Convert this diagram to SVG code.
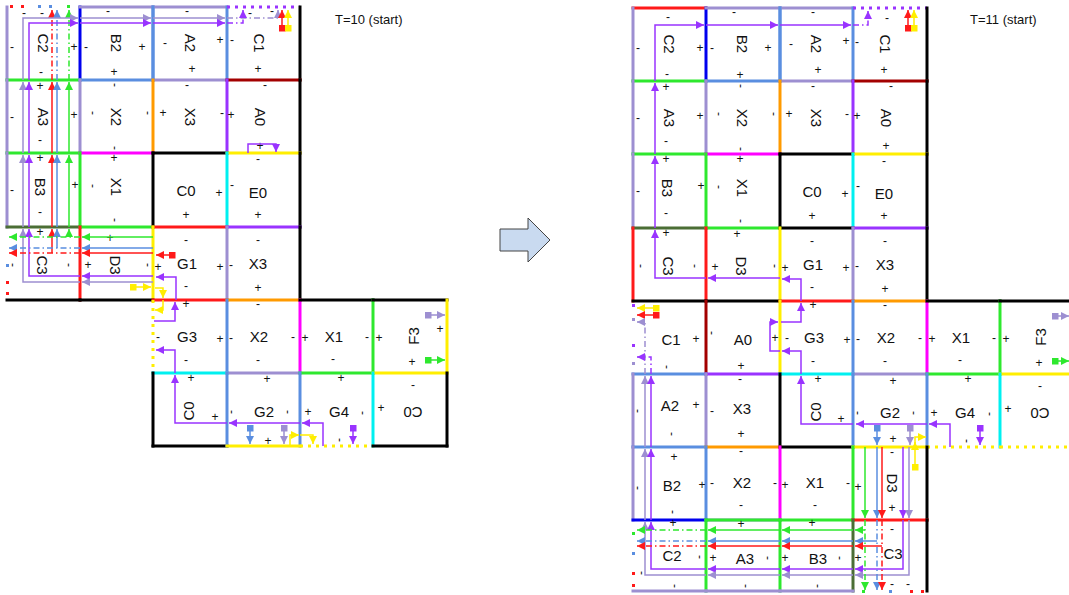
<svg xmlns="http://www.w3.org/2000/svg" width="1069" height="595" viewBox="0 0 1069 595">
<style>
.e{stroke-width:3;fill:none;stroke-linecap:square}
.lv{stroke:#9d8fd1}.cf{stroke:#5a8ee0}.bl{stroke:#0000ee}.lm{stroke:#2ee82e}.dg{stroke:#4b6e35}.rd{stroke:#ff1a1a}.dr{stroke:#a30000}.or{stroke:#ff9a00}.mg{stroke:#ff00ff}.pu{stroke:#9933ff}.ye{stroke:#ffee00}.cy{stroke:#00f0f0}.bk{stroke:#000}
.dot{stroke-dasharray:3 5;stroke-linecap:butt}
.L{font-family:"Liberation Sans",Arial,sans-serif;font-size:15px;fill:#111;text-anchor:middle;dominant-baseline:central}
.s{font-family:"Liberation Sans",Arial,sans-serif;font-size:12px;fill:#111;text-anchor:middle;dominant-baseline:central}
.T{font-family:"Liberation Sans",Arial,sans-serif;font-size:13px;fill:#111}
.c{fill:none;stroke-width:1.5}
.dd{stroke-dasharray:6 3 1.5 3}
.aPu{marker-end:url(#aPu)}.aLv{marker-end:url(#aLv)}.aRd{marker-end:url(#aRd)}.aCf{marker-end:url(#aCf)}.aLm{marker-end:url(#aLm)}.aYe{marker-end:url(#aYe)}
</style>
<defs>
<marker id="aPu" viewBox="0 0 10 10" refX="10" refY="5" markerWidth="9" markerHeight="8" markerUnits="userSpaceOnUse" orient="auto"><path d="M0,0L10,5L0,10z" fill="#9933ff"/></marker>
<marker id="aLv" viewBox="0 0 10 10" refX="10" refY="5" markerWidth="9" markerHeight="8" markerUnits="userSpaceOnUse" orient="auto"><path d="M0,0L10,5L0,10z" fill="#9d8fd1"/></marker>
<marker id="aRd" viewBox="0 0 10 10" refX="10" refY="5" markerWidth="9" markerHeight="8" markerUnits="userSpaceOnUse" orient="auto"><path d="M0,0L10,5L0,10z" fill="#ff1a1a"/></marker>
<marker id="aCf" viewBox="0 0 10 10" refX="10" refY="5" markerWidth="9" markerHeight="8" markerUnits="userSpaceOnUse" orient="auto"><path d="M0,0L10,5L0,10z" fill="#5a8ee0"/></marker>
<marker id="aLm" viewBox="0 0 10 10" refX="10" refY="5" markerWidth="9" markerHeight="8" markerUnits="userSpaceOnUse" orient="auto"><path d="M0,0L10,5L0,10z" fill="#2ee82e"/></marker>
<marker id="aYe" viewBox="0 0 10 10" refX="10" refY="5" markerWidth="9" markerHeight="8" markerUnits="userSpaceOnUse" orient="auto"><path d="M0,0L10,5L0,10z" fill="#ffee00"/></marker>
<marker id="qRd" viewBox="0 0 10 10" refX="5" refY="5" markerWidth="7" markerHeight="7" markerUnits="userSpaceOnUse"><rect width="10" height="10" fill="#ff1a1a"/></marker>
<marker id="qYe" viewBox="0 0 10 10" refX="5" refY="5" markerWidth="7" markerHeight="7" markerUnits="userSpaceOnUse"><rect width="10" height="10" fill="#ffee00"/></marker>
<marker id="qCf" viewBox="0 0 10 10" refX="5" refY="5" markerWidth="7" markerHeight="7" markerUnits="userSpaceOnUse"><rect width="10" height="10" fill="#5a8ee0"/></marker>
<marker id="qLv" viewBox="0 0 10 10" refX="5" refY="5" markerWidth="7" markerHeight="7" markerUnits="userSpaceOnUse"><rect width="10" height="10" fill="#9d8fd1"/></marker>
<marker id="qPu" viewBox="0 0 10 10" refX="5" refY="5" markerWidth="7" markerHeight="7" markerUnits="userSpaceOnUse"><rect width="10" height="10" fill="#9933ff"/></marker>
<marker id="qLm" viewBox="0 0 10 10" refX="5" refY="5" markerWidth="7" markerHeight="7" markerUnits="userSpaceOnUse"><rect width="10" height="10" fill="#2ee82e"/></marker>
</defs>
<rect width="1069" height="595" fill="#fff"/>

<text class="T" x="335" y="24">T=10 (start)</text>
<text class="T" x="970" y="24">T=11 (start)</text>
<g id="transition-arrow"><path d="M500,229H528V218L550,240L528,262V251H500Z" fill="#c9daf0" stroke="#444" stroke-width="1"/></g>

<!-- ================= LEFT (T=10) ================= -->
<g id="L-C2"><line class="e lv" x1="7" y1="7" x2="7" y2="80"/><line class="e bl" x1="80" y1="7" x2="80" y2="80"/><line class="e lm" x1="7" y1="80" x2="80" y2="80"/>
<rect x="10" y="5" width="3" height="3" fill="#ff1a1a"/><rect x="21" y="5" width="3" height="3" fill="#ff1a1a"/><rect x="38" y="5" width="3" height="3" fill="#5a8ee0"/><rect x="49" y="5" width="3" height="3" fill="#5a8ee0"/><rect x="67" y="5" width="3" height="3" fill="#2ee82e"/>
<text class="L" transform="rotate(90 43 43)" x="43" y="43">C2</text><text class="s" x="24" y="13">-</text><text class="s" x="42" y="13">-</text><text class="s" x="12" y="47">-</text><text class="s" x="74" y="47">+</text><text class="s" x="41" y="72">-</text></g>
<g id="L-B2"><line class="e lv" x1="80" y1="7" x2="153" y2="7"/><line class="e cf" x1="153" y1="7" x2="153" y2="80"/><line class="e cf" x1="80" y1="80" x2="153" y2="80"/>
<text class="L" transform="rotate(90 116 43)" x="116" y="43">B2</text><text class="s" x="108" y="11">-</text><text class="s" x="86" y="47">-</text><text class="s" x="142" y="47">+</text><text class="s" x="114" y="72">+</text></g>
<g id="L-A2"><line class="e lv" x1="153" y1="7" x2="227" y2="7"/><line class="e cf" x1="227" y1="7" x2="227" y2="80"/><line class="e lv" x1="153" y1="80" x2="227" y2="80"/><line class="e cf" x1="153" y1="7" x2="153" y2="80"/>
<text class="L" transform="rotate(90 190 43)" x="190" y="43">A2</text><text class="s" x="187" y="11">-</text><text class="s" x="165" y="43">-</text><text class="s" x="220" y="40">+</text><text class="s" x="192" y="69">+</text></g>
<g id="L-C1"><line class="e pu dot" x1="227" y1="7" x2="300" y2="7"/><line class="e bk" x1="300" y1="7" x2="300" y2="80"/><line class="e dr" x1="227" y1="80" x2="300" y2="80"/>
<text class="L" transform="rotate(90 259 43)" x="259" y="43">C1</text><text class="s" x="250" y="13">-</text><text class="s" x="272" y="11">-</text><text class="s" x="232" y="40">-</text><text class="s" x="258" y="69">+</text></g>

<g id="L-A3"><line class="e lv" x1="7" y1="80" x2="7" y2="153"/><line class="e lv" x1="80" y1="80" x2="80" y2="153"/><line class="e lm" x1="7" y1="153" x2="80" y2="153"/>
<text class="L" transform="rotate(90 43 117)" x="43" y="117">A3</text><text class="s" x="40" y="86">+</text><text class="s" x="12" y="117">-</text><text class="s" x="74" y="115">+</text><text class="s" x="40" y="140">-</text></g>
<g id="L-X2"><line class="e or" x1="153" y1="80" x2="153" y2="153"/><line class="e mg" x1="80" y1="153" x2="153" y2="153"/>
<text class="L" transform="rotate(90 116 117)" x="116" y="117">X2</text><text class="s" transform="rotate(90 115 85)" x="115" y="85">-</text><text class="s" transform="rotate(90 93 113)" x="93" y="113">-</text><text class="s" transform="rotate(90 148 113)" x="148" y="113">-</text><text class="s" transform="rotate(90 115 148)" x="115" y="148">-</text></g>
<g id="L-X3"><line class="e pu" x1="227" y1="80" x2="227" y2="153"/><line class="e bk" x1="153" y1="153" x2="227" y2="153"/>
<text class="L" transform="rotate(90 190 117)" x="190" y="117">X3</text><text class="s" x="187" y="85">-</text><text class="s" x="163" y="113">+</text><text class="s" x="222" y="113">-</text></g>
<g id="L-A0"><line class="e bk" x1="300" y1="80" x2="300" y2="153"/><line class="e ye" x1="227" y1="153" x2="300" y2="153"/>
<text class="L" transform="rotate(90 260 117)" x="260" y="117">A0</text><text class="s" x="265" y="85">-</text><text class="s" x="231" y="115">+</text><text class="s" x="260" y="146">+</text></g>

<g id="L-B3"><line class="e lv" x1="7" y1="153" x2="7" y2="227"/><line class="e lm" x1="80" y1="153" x2="80" y2="227"/><line class="e dg" x1="7" y1="227" x2="80" y2="227"/>
<text class="L" transform="rotate(90 40 187)" x="40" y="187">B3</text><text class="s" x="40" y="158">+</text><text class="s" x="12" y="190">-</text><text class="s" x="75" y="185">+</text><text class="s" x="40" y="212">-</text></g>
<g id="L-X1"><line class="e bk" x1="153" y1="153" x2="153" y2="227"/><line class="e lm" x1="80" y1="227" x2="153" y2="227"/>
<text class="L" transform="rotate(90 116 187)" x="116" y="187">X1</text><text class="s" x="114" y="158">+</text><text class="s" transform="rotate(90 93 186)" x="93" y="186">-</text><text class="s" transform="rotate(90 115 220)" x="115" y="220">-</text></g>
<g id="L-C0a"><line class="e cy" x1="227" y1="153" x2="227" y2="227"/><line class="e rd" x1="153" y1="227" x2="227" y2="227"/>
<text class="L" x="186" y="190">C0</text><text class="s" x="219" y="193">+</text><text class="s" x="186" y="215">+</text></g>
<g id="L-E0"><line class="e bk" x1="300" y1="153" x2="300" y2="227"/><line class="e pu" x1="227" y1="227" x2="300" y2="227"/>
<text class="L" x="258" y="192">E0</text><text class="s" x="258" y="159">-</text><text class="s" x="232" y="185">-</text><text class="s" x="258" y="215">+</text></g>

<g id="L-C3"><line class="e rd" x1="80" y1="227" x2="80" y2="300"/><line class="e bk" x1="7" y1="300" x2="80" y2="300"/>
<rect x="6" y="264" width="3" height="3" fill="#5a8ee0"/><rect x="6" y="281" width="3" height="3" fill="#ff1a1a"/><rect x="6" y="292" width="3" height="3" fill="#ff1a1a"/>
<text class="L" transform="rotate(90 42 265)" x="42" y="265">C3</text><text class="s" x="40" y="232">+</text><text class="s" transform="rotate(90 13 265)" x="13" y="265">-</text><text class="s" transform="rotate(90 69 265)" x="69" y="265">-</text></g>
<g id="L-D3"><line class="e ye" x1="153" y1="227" x2="153" y2="300"/><line class="e bk" x1="80" y1="300" x2="153" y2="300"/>
<text class="L" transform="rotate(90 115 265)" x="115" y="265">D3</text><text class="s" x="110" y="238">+</text><text class="s" x="88" y="265">+</text><text class="s" transform="rotate(90 148 265)" x="148" y="265">-</text></g>
<g id="L-G1"><line class="e lv" x1="227" y1="227" x2="227" y2="300"/><line class="e rd" x1="153" y1="300" x2="227" y2="300"/>
<text class="L" x="187" y="263">G1</text><text class="s" x="186" y="240">-</text><text class="s" x="158" y="267">+</text><text class="s" x="220" y="267">+</text><text class="s" x="186" y="286">-</text></g>
<g id="L-X3b"><line class="e bk" x1="300" y1="227" x2="300" y2="300"/><line class="e or" x1="227" y1="300" x2="300" y2="300"/>
<text class="L" x="258" y="263">X3</text><text class="s" x="258" y="240">-</text><text class="s" x="231" y="265">-</text><text class="s" x="258" y="288">+</text></g>

<g id="L-G3"><line class="e ye dot" x1="153" y1="300" x2="153" y2="373"/><line class="e cf" x1="227" y1="300" x2="227" y2="373"/><line class="e cy" x1="153" y1="373" x2="227" y2="373"/>
<text class="L" x="187" y="336">G3</text><text class="s" x="186" y="304">+</text><text class="s" x="158" y="337">-</text><text class="s" x="220" y="339">+</text><text class="s" x="186" y="360">-</text></g>
<g id="L-X2b"><line class="e mg" x1="300" y1="300" x2="300" y2="373"/><line class="e lv" x1="227" y1="373" x2="300" y2="373"/>
<text class="L" x="259" y="336">X2</text><text class="s" x="258" y="304">-</text><text class="s" x="231" y="338">-</text><text class="s" x="293" y="337">-</text><text class="s" x="258" y="360">-</text></g>
<g id="L-X1b"><line class="e bk" x1="300" y1="300" x2="373" y2="300"/><line class="e lm" x1="373" y1="300" x2="373" y2="373"/><line class="e lm" x1="300" y1="373" x2="373" y2="373"/>
<text class="L" x="334" y="336">X1</text><text class="s" x="305" y="338">+</text><text class="s" x="367" y="337">-</text><text class="s" x="333" y="359">-</text></g>
<g id="L-F3"><line class="e bk" x1="373" y1="300" x2="447" y2="300"/><line class="e ye" x1="447" y1="300" x2="447" y2="373"/><line class="e ye" x1="373" y1="373" x2="447" y2="373"/>
<text class="L" transform="rotate(-90 413 336)" x="413" y="336">F3</text><text class="s" x="440" y="329">+</text><text class="s" x="379" y="338">+</text><text class="s" x="412" y="362">+</text></g>

<g id="L-C0b"><line class="e bk" x1="153" y1="373" x2="153" y2="446"/><line class="e bk" x1="153" y1="446" x2="227" y2="446"/><line class="e cf" x1="227" y1="373" x2="227" y2="446"/>
<text class="L" transform="rotate(-90 188 411)" x="188" y="411">C0</text><text class="s" x="191" y="378">+</text><text class="s" x="215" y="417">+</text></g>
<g id="L-G2"><line class="e cf" x1="300" y1="373" x2="300" y2="446"/><line class="e ye" x1="227" y1="446" x2="300" y2="446"/>
<text class="L" x="264" y="411">G2</text><text class="s" x="267" y="379">+</text><text class="s" transform="rotate(90 232 412)" x="232" y="412">-</text><text class="s" transform="rotate(90 288 412)" x="288" y="412">-</text><text class="s" x="268" y="441">+</text></g>
<g id="L-G4"><line class="e cy" x1="373" y1="373" x2="373" y2="446"/><line class="e ye dot" x1="300" y1="446" x2="373" y2="446"/>
<text class="L" x="339" y="411">G4</text><text class="s" x="341" y="378">+</text><text class="s" x="308" y="412">+</text><text class="s" transform="rotate(90 363 413)" x="363" y="413">-</text><text class="s" transform="rotate(90 340 440)" x="340" y="440">-</text></g>
<g id="L-C0c"><line class="e bk" x1="447" y1="373" x2="447" y2="446"/><line class="e bk" x1="373" y1="446" x2="447" y2="446"/>
<text class="L" transform="rotate(180 413 412)" x="413" y="412">C0</text><text class="s" x="413" y="385">-</text><text class="s" x="381" y="408">+</text></g>

<g id="L-connectors">
<path class="c aRd" stroke="#ff1a1a" d="M52,253V229"/><path class="c aRd" stroke="#ff1a1a" d="M52,227V155"/><path class="c aRd" stroke="#ff1a1a" d="M52,153V82"/><path class="c dd aRd" stroke="#ff1a1a" d="M52,80V10"/>
<path class="c aCf" stroke="#5a8ee0" d="M57,248V229"/><path class="c aCf" stroke="#5a8ee0" d="M57,227V155"/><path class="c aCf" stroke="#5a8ee0" d="M57,153V82"/><path class="c dd aCf" stroke="#5a8ee0" d="M57,80V10"/>
<path class="c aLm" stroke="#2ee82e" d="M69,237V229"/><path class="c aLm" stroke="#2ee82e" d="M69,227V155"/><path class="c aLm" stroke="#2ee82e" d="M69,153V82"/><path class="c dd aLm" stroke="#2ee82e" d="M69,80V10"/>
<path class="c aLv" stroke="#9d8fd1" d="M80,282H23V229"/><path class="c aLv" stroke="#9d8fd1" d="M23,227V155"/><path class="c aLv" stroke="#9d8fd1" d="M23,153V82"/><path class="c aLv" stroke="#9d8fd1" d="M23,80V18H78"/><path class="c aLv" stroke="#9d8fd1" d="M80,18H151"/><path class="c aLv" stroke="#9d8fd1" d="M153,18H225"/><path class="c dd aLv" stroke="#9d8fd1" d="M227,18H278V10"/>
<path class="c aPu" stroke="#9933ff" d="M80,276H29V229"/><path class="c aPu" stroke="#9933ff" d="M29,227V155"/><path class="c aPu" stroke="#9933ff" d="M29,153V82"/><path class="c aPu" stroke="#9933ff" d="M29,80V23H78"/><path class="c aPu" stroke="#9933ff" d="M80,23H151"/><path class="c aPu" stroke="#9933ff" d="M153,23H225"/><path class="c dd aPu" stroke="#9933ff" d="M227,23H243V10"/>
<path class="c aRd" stroke="#ff1a1a" d="M282,28V10" marker-start="url(#qRd)"/><path class="c aYe" stroke="#ffee00" d="M288,28V10" marker-start="url(#qYe)"/>
<path class="c aLm" stroke="#2ee82e" d="M153,237H82"/><path class="c dd aLm" stroke="#2ee82e" d="M80,237H9"/>
<path class="c aCf" stroke="#5a8ee0" d="M153,248H82"/><path class="c dd aCf" stroke="#5a8ee0" d="M80,248H9"/>
<path class="c aRd" stroke="#ff1a1a" d="M153,253H82"/><path class="c dd aRd" stroke="#ff1a1a" d="M80,253H9"/>
<path class="c aPu" stroke="#9933ff" d="M153,276H82"/><path class="c aLv" stroke="#9d8fd1" d="M153,282H82"/>
<path class="c aYe" stroke="#ffee00" d="M133,287H151" marker-start="url(#qYe)"/>
<path class="c aRd" stroke="#ff1a1a" d="M172,255H156" marker-start="url(#qRd)"/>
<path class="c aPu" stroke="#9933ff" d="M176,300V277H156"/>
<path class="c aYe" stroke="#ffee00" d="M155,288H163V298"/>
<path class="c aPu" stroke="#9933ff" d="M154,321H175V302"/>
<path class="c aYe" stroke="#ffee00" d="M163,300V310H155"/>
<path class="c aPu" stroke="#9933ff" d="M175,373V350H156"/>
<path class="c aPu" stroke="#9933ff" d="M323,446V423H302"/><path class="c aPu" stroke="#9933ff" d="M300,423H229"/><path class="c aPu" stroke="#9933ff" d="M227,423H175V375"/>
<path class="c aCf" stroke="#5a8ee0" d="M250,428V444" marker-start="url(#qCf)"/>
<path class="c aLv" stroke="#9d8fd1" d="M284,428V444" marker-start="url(#qLv)"/>
<path class="c aYe" stroke="#ffee00" d="M290,446V435H299"/><path class="c aYe" stroke="#ffee00" d="M300,435H313V444"/>
<path class="c aPu" stroke="#9933ff" d="M353,428V444" marker-start="url(#qPu)"/>
<path class="c aLv" stroke="#9d8fd1" d="M428,315H445" marker-start="url(#qLv)"/>
<path class="c aLm" stroke="#2ee82e" d="M428,360H445" marker-start="url(#qLm)"/>
<path class="c aPu" stroke="#9933ff" d="M248,153V144H276V152"/>
</g>

<!-- ================= RIGHT (T=11) ================= -->
<g id="R-C2"><line class="e rd" x1="633" y1="8" x2="706" y2="8"/><line class="e lv" x1="633" y1="8" x2="633" y2="81"/><line class="e bl" x1="706" y1="8" x2="706" y2="81"/><line class="e lm" x1="633" y1="81" x2="706" y2="81"/>
<text class="L" transform="rotate(90 669 44)" x="669" y="44">C2</text><text class="s" x="668" y="17">-</text><text class="s" x="638" y="48">-</text><text class="s" x="700" y="48">+</text><text class="s" x="667" y="74">-</text></g>
<g id="R-B2"><line class="e lv" x1="706" y1="8" x2="780" y2="8"/><line class="e cf" x1="780" y1="8" x2="780" y2="81"/><line class="e cf" x1="706" y1="81" x2="780" y2="81"/>
<text class="L" transform="rotate(90 742 44)" x="742" y="44">B2</text><text class="s" x="734" y="12">-</text><text class="s" x="712" y="48">-</text><text class="s" x="768" y="48">+</text><text class="s" x="740" y="75">+</text></g>
<g id="R-A2"><line class="e lv" x1="780" y1="8" x2="853" y2="8"/><line class="e cf" x1="853" y1="8" x2="853" y2="81"/><line class="e lv" x1="780" y1="81" x2="853" y2="81"/><line class="e cf" x1="780" y1="8" x2="780" y2="81"/>
<text class="L" transform="rotate(90 816 44)" x="816" y="44">A2</text><text class="s" x="813" y="12">-</text><text class="s" x="791" y="44">-</text><text class="s" x="846" y="41">+</text><text class="s" x="818" y="70">+</text></g>
<g id="R-C1"><line class="e pu dot" x1="853" y1="8" x2="927" y2="8"/><line class="e bk" x1="927" y1="8" x2="927" y2="81"/><line class="e dr" x1="853" y1="81" x2="927" y2="81"/>
<text class="L" transform="rotate(90 885 44)" x="885" y="44">C1</text><text class="s" x="887" y="18">-</text><text class="s" x="857" y="42">-</text><text class="s" x="884" y="70">+</text></g>

<g id="R-A3"><line class="e lv" x1="633" y1="81" x2="633" y2="154"/><line class="e lv" x1="706" y1="81" x2="706" y2="154"/><line class="e lm" x1="633" y1="154" x2="706" y2="154"/>
<text class="L" transform="rotate(90 669 118)" x="669" y="118">A3</text><text class="s" x="666" y="87">+</text><text class="s" x="638" y="118">-</text><text class="s" x="700" y="116">+</text><text class="s" x="666" y="141">-</text></g>
<g id="R-X2"><line class="e or" x1="780" y1="81" x2="780" y2="154"/><line class="e mg" x1="706" y1="154" x2="780" y2="154"/>
<text class="L" transform="rotate(90 742 118)" x="742" y="118">X2</text><text class="s" transform="rotate(90 741 86)" x="741" y="86">-</text><text class="s" transform="rotate(90 719 114)" x="719" y="114">-</text><text class="s" transform="rotate(90 774 114)" x="774" y="114">-</text><text class="s" transform="rotate(90 741 149)" x="741" y="149">-</text></g>
<g id="R-X3"><line class="e pu" x1="853" y1="81" x2="853" y2="154"/><line class="e bk" x1="780" y1="154" x2="853" y2="154"/>
<text class="L" transform="rotate(90 816 118)" x="816" y="118">X3</text><text class="s" x="813" y="86">-</text><text class="s" x="789" y="114">+</text><text class="s" x="847" y="114">-</text></g>
<g id="R-A0"><line class="e bk" x1="927" y1="81" x2="927" y2="154"/><line class="e ye" x1="853" y1="154" x2="927" y2="154"/>
<text class="L" transform="rotate(90 886 118)" x="886" y="118">A0</text><text class="s" x="891" y="86">-</text><text class="s" x="857" y="116">+</text><text class="s" x="886" y="146">+</text></g>

<g id="R-B3"><line class="e lv" x1="633" y1="154" x2="633" y2="228"/><line class="e lm" x1="706" y1="154" x2="706" y2="228"/><line class="e dg" x1="633" y1="228" x2="706" y2="228"/>
<text class="L" transform="rotate(90 667 188)" x="667" y="188">B3</text><text class="s" x="666" y="159">+</text><text class="s" x="638" y="191">-</text><text class="s" x="701" y="186">+</text><text class="s" x="666" y="213">-</text></g>
<g id="R-X1"><line class="e bk" x1="780" y1="154" x2="780" y2="228"/><line class="e lm" x1="706" y1="228" x2="780" y2="228"/>
<text class="L" transform="rotate(90 742 188)" x="742" y="188">X1</text><text class="s" x="740" y="159">+</text><text class="s" transform="rotate(90 719 187)" x="719" y="187">-</text><text class="s" transform="rotate(90 741 221)" x="741" y="221">-</text></g>
<g id="R-C0a"><line class="e cy" x1="853" y1="154" x2="853" y2="228"/><line class="e bk" x1="780" y1="228" x2="853" y2="228"/>
<text class="L" x="812" y="191">C0</text><text class="s" x="845" y="194">+</text><text class="s" x="812" y="216">+</text></g>
<g id="R-E0"><line class="e bk" x1="927" y1="154" x2="927" y2="228"/><line class="e pu" x1="853" y1="228" x2="927" y2="228"/>
<text class="L" x="884" y="193">E0</text><text class="s" x="884" y="161">-</text><text class="s" x="858" y="186">-</text><text class="s" x="884" y="216">+</text></g>

<g id="R-C3"><line class="e rd" x1="633" y1="228" x2="633" y2="301"/><line class="e rd" x1="706" y1="228" x2="706" y2="301"/><line class="e bk" x1="633" y1="301" x2="706" y2="301"/>
<text class="L" transform="rotate(90 668 266)" x="668" y="266">C3</text><text class="s" x="666" y="233">+</text><text class="s" transform="rotate(90 641 266)" x="641" y="266">-</text><text class="s" transform="rotate(90 695 266)" x="695" y="266">-</text></g>
<g id="R-D3"><line class="e ye" x1="780" y1="228" x2="780" y2="301"/><line class="e bk" x1="706" y1="301" x2="780" y2="301"/>
<text class="L" transform="rotate(90 741 266)" x="741" y="266">D3</text><text class="s" x="737" y="234">+</text><text class="s" x="715" y="267">+</text><text class="s" transform="rotate(90 775 266)" x="775" y="266">-</text></g>
<g id="R-G1"><line class="e lv" x1="853" y1="228" x2="853" y2="301"/><line class="e rd" x1="780" y1="301" x2="853" y2="301"/>
<text class="L" x="813" y="264">G1</text><text class="s" x="812" y="241">-</text><text class="s" x="785" y="268">+</text><text class="s" x="846" y="268">+</text><text class="s" x="812" y="287">-</text></g>
<g id="R-X3b"><line class="e bk" x1="927" y1="228" x2="927" y2="301"/><line class="e or" x1="853" y1="301" x2="927" y2="301"/>
<text class="L" x="885" y="264">X3</text><text class="s" x="885" y="241">-</text><text class="s" x="857" y="266">-</text><text class="s" x="885" y="289">+</text></g>

<g id="R-C1b"><line class="e dr" x1="706" y1="301" x2="706" y2="374"/><line class="e cf" x1="633" y1="374" x2="706" y2="374"/>
<rect x="632" y="304" width="3" height="3" fill="#9933ff"/><rect x="632" y="318" width="3" height="3" fill="#9d8fd1"/><rect x="632" y="344" width="3" height="3" fill="#9933ff"/><rect x="632" y="362" width="3" height="3" fill="#9d8fd1"/>
<text class="L" x="671" y="339">C1</text><text class="s" x="696" y="339">+</text><text class="s" transform="rotate(90 667 367)" x="667" y="367">-</text></g>
<g id="R-A0b"><line class="e ye" x1="780" y1="301" x2="780" y2="374"/><line class="e pu" x1="706" y1="374" x2="780" y2="374"/>
<text class="L" x="743" y="339">A0</text><text class="s" transform="rotate(90 712 333)" x="712" y="333">-</text><text class="s" x="775" y="338">+</text><text class="s" x="741" y="366">+</text></g>
<g id="R-G3"><line class="e cf" x1="853" y1="301" x2="853" y2="374"/><line class="e cy" x1="780" y1="374" x2="853" y2="374"/>
<text class="L" x="814" y="337">G3</text><text class="s" x="813" y="305">+</text><text class="s" x="787" y="338">-</text><text class="s" x="847" y="340">+</text><text class="s" x="813" y="361">-</text></g>
<g id="R-X2b"><line class="e mg" x1="927" y1="301" x2="927" y2="374"/><line class="e lv" x1="853" y1="374" x2="927" y2="374"/>
<text class="L" x="886" y="337">X2</text><text class="s" x="885" y="305">-</text><text class="s" x="858" y="339">-</text><text class="s" x="920" y="338">-</text><text class="s" x="885" y="361">-</text></g>
<g id="R-X1b"><line class="e bk" x1="927" y1="301" x2="1000" y2="301"/><line class="e lm" x1="1000" y1="301" x2="1000" y2="374"/><line class="e lm" x1="927" y1="374" x2="1000" y2="374"/>
<text class="L" x="961" y="337">X1</text><text class="s" x="932" y="339">+</text><text class="s" x="994" y="338">-</text><text class="s" x="960" y="360">-</text></g>
<g id="R-F3"><line class="e bk" x1="1000" y1="301" x2="1069" y2="301"/><line class="e ye" x1="1000" y1="374" x2="1069" y2="374"/>
<text class="L" transform="rotate(-90 1040 337)" x="1040" y="337">F3</text><text class="s" x="1006" y="339">+</text><text class="s" x="1039" y="363">+</text></g>

<g id="R-A2b"><line class="e lv" x1="633" y1="374" x2="633" y2="447"/><line class="e lv" x1="706" y1="374" x2="706" y2="447"/><line class="e cf" x1="633" y1="447" x2="706" y2="447"/>
<text class="L" x="670" y="405">A2</text><text class="s" x="696" y="405">+</text><text class="s" transform="rotate(90 638 411)" x="638" y="411">-</text><text class="s" transform="rotate(90 672 434)" x="672" y="434">-</text></g>
<g id="R-X3c"><line class="e bk" x1="780" y1="374" x2="780" y2="447"/><line class="e or" x1="706" y1="447" x2="780" y2="447"/>
<text class="L" x="742" y="408">X3</text><text class="s" x="740" y="379">-</text><text class="s" x="712" y="411">-</text><text class="s" x="741" y="434">+</text></g>
<g id="R-C0b"><line class="e bk" x1="780" y1="447" x2="853" y2="447"/><line class="e cf" x1="853" y1="374" x2="853" y2="447"/>
<text class="L" transform="rotate(-90 815 412)" x="815" y="412">C0</text><text class="s" x="818" y="379">+</text><text class="s" x="841" y="419">+</text></g>
<g id="R-G2"><line class="e cf" x1="927" y1="374" x2="927" y2="447"/><line class="e ye" x1="853" y1="447" x2="927" y2="447"/>
<text class="L" x="890" y="412">G2</text><text class="s" x="893" y="381">+</text><text class="s" transform="rotate(90 858 413)" x="858" y="413">-</text><text class="s" transform="rotate(90 914 413)" x="914" y="413">-</text><text class="s" x="893" y="439">+</text></g>
<g id="R-G4"><line class="e cy" x1="1000" y1="374" x2="1000" y2="447"/><line class="e ye dot" x1="927" y1="447" x2="1000" y2="447"/>
<text class="L" x="965" y="412">G4</text><text class="s" x="968" y="379">+</text><text class="s" x="934" y="413">+</text><text class="s" transform="rotate(90 990 414)" x="990" y="414">-</text><text class="s" transform="rotate(90 967 441)" x="967" y="441">-</text></g>
<g id="R-C0c"><line class="e ye dot" x1="1000" y1="447" x2="1069" y2="447"/>
<text class="L" transform="rotate(180 1040 413)" x="1040" y="413">C0</text><text class="s" x="1040" y="386">-</text><text class="s" x="1008" y="409">+</text></g>

<g id="R-B2b"><line class="e lv" x1="633" y1="447" x2="633" y2="520"/><line class="e cf" x1="706" y1="447" x2="706" y2="520"/><line class="e bl" x1="633" y1="520" x2="706" y2="520"/>
<text class="L" x="672" y="485">B2</text><text class="s" x="674" y="457">+</text><text class="s" x="702" y="485">+</text><text class="s" transform="rotate(90 638 488)" x="638" y="488">-</text><text class="s" transform="rotate(90 673 512)" x="673" y="512">-</text></g>
<g id="R-X2c"><line class="e mg" x1="780" y1="447" x2="780" y2="520"/><line class="e lv" x1="706" y1="520" x2="780" y2="520"/>
<text class="L" x="742" y="482">X2</text><text class="s" x="741" y="451">-</text><text class="s" x="712" y="483">-</text><text class="s" x="775" y="483">-</text><text class="s" x="741" y="505">-</text></g>
<g id="R-X1c"><line class="e lm" x1="853" y1="447" x2="853" y2="520"/><line class="e lm" x1="780" y1="520" x2="853" y2="520"/>
<text class="L" x="815" y="482">X1</text><text class="s" x="785" y="485">+</text><text class="s" x="848" y="483">-</text><text class="s" x="815" y="505">-</text></g>
<g id="R-D3b"><line class="e bk" x1="927" y1="447" x2="927" y2="520"/><line class="e rd" x1="853" y1="520" x2="927" y2="520"/>
<text class="L" transform="rotate(90 892 483)" x="892" y="483">D3</text><text class="s" x="892" y="452">-</text><text class="s" x="858" y="487">+</text><text class="s" x="892" y="508">+</text></g>

<g id="R-C2b"><line class="e lm" x1="706" y1="520" x2="706" y2="591"/><line class="e lv" x1="633" y1="591" x2="706" y2="591"/>
<rect x="632" y="532" width="3" height="3" fill="#2ee82e"/><rect x="632" y="552" width="3" height="3" fill="#5a8ee0"/><rect x="632" y="572" width="3" height="3" fill="#ff1a1a"/><rect x="632" y="584" width="3" height="3" fill="#ff1a1a"/>
<text class="L" x="672" y="555">C2</text><text class="s" x="673" y="523">+</text><text class="s" transform="rotate(90 700 557)" x="700" y="557">-</text><text class="s" transform="rotate(90 642 573)" x="642" y="573">-</text><text class="s" transform="rotate(90 675 586)" x="675" y="586">-</text></g>
<g id="R-A3b"><line class="e lm" x1="706" y1="520" x2="780" y2="520"/><line class="e lm" x1="780" y1="520" x2="780" y2="591"/><line class="e lv" x1="706" y1="591" x2="780" y2="591"/>
<text class="L" x="745" y="558">A3</text><text class="s" x="741" y="524">+</text><text class="s" x="713" y="558">+</text><text class="s" transform="rotate(90 768 558)" x="768" y="558">-</text><text class="s" transform="rotate(90 746 586)" x="746" y="586">-</text></g>
<g id="R-B3b"><line class="e dg" x1="853" y1="520" x2="853" y2="591"/><line class="e lv" x1="780" y1="591" x2="853" y2="591"/>
<text class="L" x="818" y="558">B3</text><text class="s" x="812" y="523">+</text><text class="s" x="785" y="558">+</text><text class="s" transform="rotate(90 840 558)" x="840" y="558">-</text><text class="s" transform="rotate(90 818 586)" x="818" y="586">-</text></g>
<g id="R-C3b"><line class="e bk" x1="927" y1="520" x2="927" y2="591"/>
<rect x="862" y="590" width="3" height="3" fill="#2ee82e"/><rect x="889" y="590" width="3" height="3" fill="#5a8ee0"/><rect x="910" y="590" width="3" height="3" fill="#ff1a1a"/><rect x="921" y="590" width="3" height="3" fill="#ff1a1a"/>
<text class="L" x="893" y="553">C3</text><text class="s" x="858" y="558">+</text><text class="s" x="892" y="529">-</text><text class="s" x="892" y="584">-</text><text class="s" x="908" y="584">-</text></g>

<g id="R-connectors">
<path class="c aPu" stroke="#9933ff" d="M780,278H708"/><path class="c aPu" stroke="#9933ff" d="M706,278H655V230"/><path class="c aPu" stroke="#9933ff" d="M655,228V156"/><path class="c aPu" stroke="#9933ff" d="M655,154V83"/><path class="c aPu" stroke="#9933ff" d="M655,81V25H704"/><path class="c aPu" stroke="#9933ff" d="M706,25H778"/><path class="c aPu" stroke="#9933ff" d="M780,25H851"/><path class="c dd aPu" stroke="#9933ff" d="M853,25H868V11"/>
<path class="c aRd" stroke="#ff1a1a" d="M908,28V10" marker-start="url(#qRd)"/><path class="c aYe" stroke="#ffee00" d="M914,28V10" marker-start="url(#qYe)"/>
<path class="c aYe" stroke="#ffee00" d="M656,308H637" marker-start="url(#qYe)"/>
<path class="c aRd" stroke="#ff1a1a" d="M656,315H637" marker-start="url(#qRd)"/>
<path class="c dd aLv" stroke="#9d8fd1" d="M645,374V322H637"/>
<path class="c dd aPu" stroke="#9933ff" d="M651,374V357H637"/>
<path class="c aPu" stroke="#9933ff" d="M780,351H770V322H778"/>
<path class="c aPu" stroke="#9933ff" d="M781,322H801V303"/>
<path class="c aPu" stroke="#9933ff" d="M801,374V351H782"/>
<path class="c aPu" stroke="#9933ff" d="M801,301V279H782"/>
<path class="c aLv" stroke="#9d8fd1" d="M645,447V376"/><path class="c aLv" stroke="#9d8fd1" d="M645,520V449"/><path class="c aLv" stroke="#9d8fd1" d="M706,575H645V522"/>
<path class="c aPu" stroke="#9933ff" d="M651,447V376"/><path class="c aPu" stroke="#9933ff" d="M651,520V449"/><path class="c aPu" stroke="#9933ff" d="M706,569H651V522"/>
<path class="c dd aLm" stroke="#2ee82e" d="M706,530H637"/><path class="c dd aCf" stroke="#5a8ee0" d="M706,541H637"/><path class="c dd aRd" stroke="#ff1a1a" d="M706,546H637"/>
<path class="c aLm" stroke="#2ee82e" d="M780,530H708"/><path class="c aCf" stroke="#5a8ee0" d="M780,541H708"/><path class="c aRd" stroke="#ff1a1a" d="M780,546H708"/><path class="c aPu" stroke="#9933ff" d="M780,569H708"/><path class="c aLv" stroke="#9d8fd1" d="M780,575H708"/>
<path class="c aLm" stroke="#2ee82e" d="M853,530H782"/><path class="c aCf" stroke="#5a8ee0" d="M853,541H782"/><path class="c aRd" stroke="#ff1a1a" d="M853,546H782"/><path class="c aPu" stroke="#9933ff" d="M853,569H782"/><path class="c aLv" stroke="#9d8fd1" d="M853,575H782"/>
<path class="c aLm" stroke="#2ee82e" d="M865,530H855"/><path class="c aCf" stroke="#5a8ee0" d="M877,541H855"/><path class="c aRd" stroke="#ff1a1a" d="M882,546H855"/>
<path class="c aPu" stroke="#9933ff" d="M903,520V569H855"/><path class="c aLv" stroke="#9d8fd1" d="M909,520V575H855"/>
<path class="c aLm" stroke="#2ee82e" d="M865,447V518"/><path class="c aCf" stroke="#5a8ee0" d="M877,447V518"/><path class="c aRd" stroke="#ff1a1a" d="M882,447V518"/><path class="c aPu" stroke="#9933ff" d="M903,447V518"/><path class="c aLv" stroke="#9d8fd1" d="M909,447V518"/>
<path class="c dd aLm" stroke="#2ee82e" d="M865,520V590"/><path class="c dd aCf" stroke="#5a8ee0" d="M877,520V590"/><path class="c dd aRd" stroke="#ff1a1a" d="M882,520V590"/>
<path class="c aCf" stroke="#5a8ee0" d="M877,428V445" marker-start="url(#qCf)"/>
<path class="c aLv" stroke="#9d8fd1" d="M910,428V445" marker-start="url(#qLv)"/>
<path class="c aYe" stroke="#ffee00" d="M915,467V442" marker-start="url(#qYe)"/><path class="c aYe" stroke="#ffee00" d="M915,447V437H926"/>
<path class="c aPu" stroke="#9933ff" d="M980,428V445" marker-start="url(#qPu)"/>
<path class="c aLv" stroke="#9d8fd1" d="M1055,316H1069" marker-start="url(#qLv)"/>
<path class="c aLm" stroke="#2ee82e" d="M1055,361H1069" marker-start="url(#qLm)"/>
<path class="c aPu" stroke="#9933ff" d="M950,447V424H929"/><path class="c aPu" stroke="#9933ff" d="M927,424H856"/><path class="c aPu" stroke="#9933ff" d="M853,424H801V376"/>
</g>
</svg>
